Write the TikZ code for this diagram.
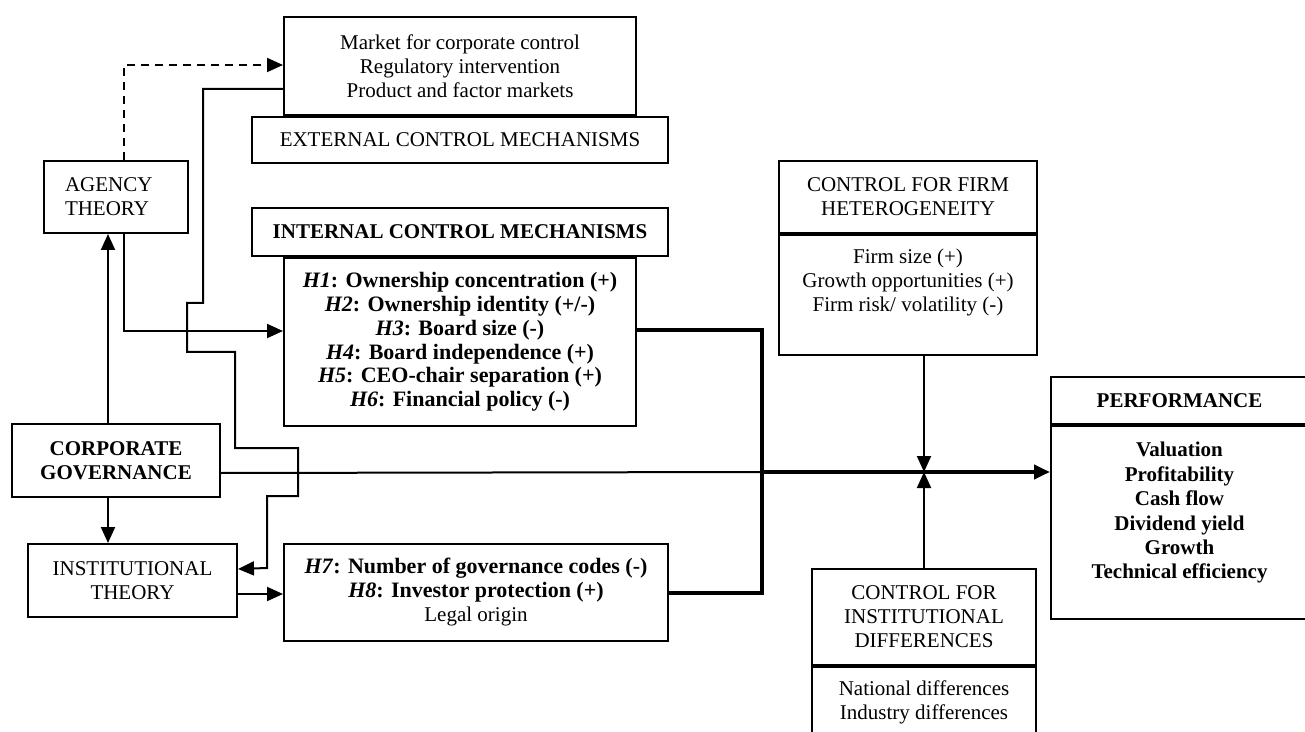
\documentclass[tikz,border=0pt]{standalone}
\usepackage{fontspec}
\setmainfont{Liberation Serif}
\usetikzlibrary{positioning,arrows.meta}
\begin{document}
\begin{tikzpicture}[x=0.5pt,y=-0.5pt,
    font=\fontsize{10.5}{12}\selectfont,
    box/.style={draw, line width=1pt, inner sep=0pt, align=center},
    bold/.style={font=\fontsize{10.5}{12}\selectfont\bfseries},
    hyps/.style={font=\fontsize{11}{11.9}\selectfont},
    txt/.style={inner sep=0pt, align=center, anchor=north},
    conn/.style={line width=1pt, -{Triangle[length=8pt,width=7pt]}},
    wire/.style={line width=1pt},
    heavy/.style={line width=2pt}]
    \clip (0,0) rectangle (1305,732);

    % external mechanisms
    \node[box, anchor=north west, minimum width=176pt, minimum height=49pt] (mkt) at (283,16)
        {Market for corporate control\\Regulatory intervention\\Product and factor markets};
    \node[box, minimum width=208pt, minimum height=23pt, below=0pt of mkt] (extl) {EXTERNAL CONTROL MECHANISMS};

    % theories
    \node[box, anchor=north west, inner xsep=10.5pt, text width=51pt, align=left, minimum height=36pt] (agency) at (43,160)
        {AGENCY\\THEORY};
    \node[box, bold, anchor=north west, minimum width=104pt, minimum height=36.5pt] (corp) at (11,423)
        {CORPORATE\\GOVERNANCE};
    \node[box, anchor=north west, minimum width=104.5pt, minimum height=36.5pt] (inst) at (27,543)
        {INSTITUTIONAL\\THEORY};

    % internal mechanisms
    \node[box, bold, anchor=north west, minimum width=208pt, minimum height=24pt] (intl) at (251,207)
        {INTERNAL CONTROL MECHANISMS};
    \node[box, hyps, minimum width=176pt, minimum height=84pt, below=0pt of intl] (intb)
        {\textbf{\textit{H1}: Ownership concentration (+)}\\
         \textbf{\textit{H2}: Ownership identity (+/-)}\\
         \textbf{\textit{H3}: Board size (-)}\\
         \textbf{\textit{H4}: Board independence (+)}\\
         \textbf{\textit{H5}: CEO-chair separation (+)}\\
         \textbf{\textit{H6}: Financial policy (-)}};
    \node[box, anchor=north west, minimum width=192pt, minimum height=48.5pt] (hyp) at (283,543)
        {{\fontsize{11}{12}\selectfont\textbf{\textit{H7}: Number of governance codes (-)}}\\
         {\fontsize{11}{12}\selectfont\textbf{\textit{H8}: Investor protection (+)}}\\
         Legal origin};

    % controls
    \node[box, anchor=north west, minimum width=129pt, minimum height=36pt] (firmh) at (778,160)
        {CONTROL FOR FIRM\\HETEROGENEITY};
    \node[box, minimum width=129pt, minimum height=60pt, below=0pt of firmh] (firmb) {};
    \node[txt] (firmtxt) at ([yshift=-7.5pt]firmb.north)
        {Firm size (+)\\Growth opportunities (+)\\Firm risk/ volatility (-)};

    \node[box, anchor=north west, minimum width=112pt, minimum height=48pt] (instdh) at (811,568)
        {CONTROL FOR\\INSTITUTIONAL\\DIFFERENCES};
    \node[box, minimum width=112pt, minimum height=40pt, below=0pt of instdh] (instdb) {};
    \node[txt] (instdtxt) at ([yshift=-7pt]instdb.north)
        {National differences\\Industry differences};

    % performance
    \node[box, bold, anchor=north west, minimum width=128.5pt, minimum height=23.5pt] (perfh) at (1050,376)
        {PERFORMANCE};
    \node[box, minimum width=128.5pt, minimum height=96.5pt, below=0pt of perfh] (perfb) {};
    \node[txt, font=\fontsize{10.5}{12.2}\selectfont\bfseries] (perftxt) at ([yshift=-8.5pt]perfb.north)
        {Valuation\\Profitability\\Cash flow\\Dividend yield\\Growth\\Technical efficiency};

    \coordinate (join) at (762,472);

    % connectors
    \draw[conn, dashed, dash pattern=on 4pt off 3pt] ([xshift=4pt]agency.north) |- ([yshift=0.5pt]mkt.west);
    \draw[conn] ([xshift=-4pt]corp.north) -- ([xshift=-4pt]agency.south);
    \draw[conn] ([xshift=4pt]agency.south) |- ([yshift=5.5pt]intb.west);
    \draw[conn] ([xshift=-4pt]corp.south) -- ([xshift=-4pt]corp.south |- inst.north);
    \draw[conn] ([yshift=-6.75pt]inst.east) -- ([yshift=-6.75pt]inst.east -| hyp.west);
    \draw[conn] ([yshift=-11.5pt]mkt.west) -| (203,303) -| (187,352) -| (235,448) -| (298,496) -| (267,568)
        -- ([yshift=5.75pt]inst.east);

    \draw[wire] ([yshift=-6.25pt]corp.east) -- (join);
    \draw[heavy] ([yshift=6pt]intb.east) -| (join) |- (hyp.east);
    \draw[heavy, -{Triangle[length=8pt,width=7pt]}] (join) -- (join -| perfb.west);

    \draw[conn] (firmb.south -| instdh.north) -- (instdh.north |- join);
    \draw[conn] (instdh.north) -- (instdh.north |- join);
\end{tikzpicture}
\end{document}
